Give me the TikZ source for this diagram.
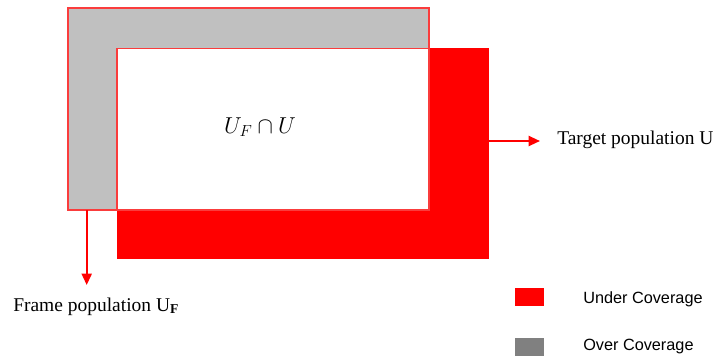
\documentclass[tikz,border=0pt]{standalone}
\usepackage{fontspec}
\setmainfont{Liberation Serif}
\newfontfamily\arialfont{Liberation Sans}
\usetikzlibrary{arrows.meta}
\definecolor{fillred}{RGB}{255,0,0}
\definecolor{edgered}{RGB}{250,60,60}
\definecolor{overgray}{RGB}{192,192,192}
\definecolor{leggray}{RGB}{128,128,128}
\tikzset{
  region/.style={inner sep=0pt, outer sep=0pt, anchor=north west},
  pointer/.style={draw=fillred, line width=1.5pt, -{Triangle[length=8.5pt,width=7.5pt]}},
  serlabel/.style={inner sep=0pt, font=\fontsize{14.6}{17}\selectfont},
  leglabel/.style={inner sep=0pt, anchor=base west, font=\arialfont\fontsize{12.2}{14}\selectfont},
  legbox/.style={inner sep=0pt, anchor=north west, minimum width=21.75pt, minimum height=13pt}
}
\begin{document}
\begin{tikzpicture}[x=0.75pt,y=-0.75pt]
\useasboundingbox[fill=white] (0,0) rectangle (720,358);
% target population (red)
\node[region, fill=fillred, minimum width=279.45pt, minimum height=158pt] (target) at (116.7,48.3) {};
% frame population (gray)
\node[region, fill=overgray, draw=edgered, line width=1.2pt, minimum width=271pt, minimum height=151.7pt] (frame) at (67.7,7.7) {};
% intersection (white)
\node[region, fill=white, draw=edgered, line width=1.2pt, minimum width=234.2pt, minimum height=121pt] (inter) at (116.7,48.3) {};
\node[inner sep=0pt, font=\fontsize{16.5}{19}\selectfont] (interlabel) at (260,127) {$U_F\cap U$};
% arrows and labels
\coordinate (fa) at (86.7,210);
\node[serlabel, anchor=base west] (framelabel) at (13,311) {Frame population U\textsubscript{\textbf{F}}};
\draw[pointer] (fa) -- (fa |- 0,285);
\coordinate (ta) at (489.3,141);
\node[serlabel, anchor=west] (targetlabel) at (557,140) {Target population U};
\draw[pointer] (ta) -- (540,141);
% legend
\node[legbox, fill=fillred] (legu) at (515,288) {};
\node[leglabel] (legulabel) at (583,303) {Under Coverage};
\node[legbox, fill=leggray] (lego) at (515,338) {};
\node[leglabel] (legolabel) at (583,350) {Over Coverage};
\end{tikzpicture}
\end{document}
